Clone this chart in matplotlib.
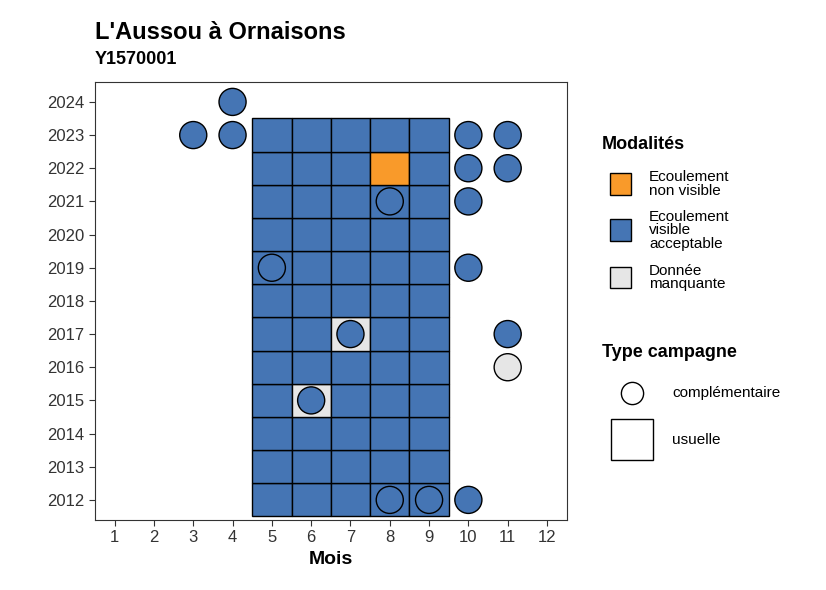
import matplotlib
matplotlib.use("Agg")
import matplotlib.pyplot as plt
from matplotlib.patches import Rectangle
from matplotlib.lines import Line2D

plt.rcParams['font.family'] = ['Liberation Sans', 'DejaVu Sans']

BLUE = '#4575b4'; ORANGE = '#f99a2a'; GREY = '#e6e6e6'
colors = {'vis': BLUE, 'nv': ORANGE, 'na': GREY}

# usual campaign tiles: months 5-9, years 2012-2023
tile_months = [5, 6, 7, 8, 9]
tile_years = list(range(2012, 2024))
tile_exceptions = {(8, 2022): 'nv', (7, 2017): 'na', (6, 2015): 'na'}

# complementary campaign points (month, year, modality)
comp_months = [4, 3, 4, 10, 11, 10, 11, 8, 10, 5, 10, 7, 11, 11, 6, 8, 9, 10]
comp_years = [2024, 2023, 2023, 2023, 2023, 2022, 2022, 2021, 2021, 2019, 2019, 2017, 2017, 2016, 2015, 2012, 2012, 2012]
comp_mod = ['vis'] * 13 + ['na'] + ['vis'] * 4

fig = plt.figure(figsize=(8.26, 5.9), dpi=100)
ax = fig.add_axes([0.115, 0.119, 0.571, 0.742])

for y in tile_years:
    for m in tile_months:
        mod = tile_exceptions.get((m, y), 'vis')
        ax.add_patch(Rectangle((m - 0.5, y - 0.5), 1, 1, facecolor=colors[mod],
                               edgecolor='black', lw=1, zorder=2))

ax.scatter(comp_months, comp_years, s=380, c=[colors[c] for c in comp_mod],
           edgecolors='black', linewidths=1, zorder=3)

ax.set_xlim(0.5, 12.5)
ax.set_ylim(2011.4, 2024.6)
ax.set_xticks(range(1, 13))
ax.set_yticks(range(2012, 2025))
ax.tick_params(labelsize=12, colors='#333333', length=4)
for sp in ax.spines.values():
    sp.set_color('#333333'); sp.set_linewidth(0.8)
ax.set_xlabel('Mois', fontsize=14, fontweight='bold')

fig.text(0.115, 0.945, "L'Aussou à Ornaisons", fontsize=17, fontweight='bold', va='center')
fig.text(0.115, 0.9, "Y1570001", fontsize=13, fontweight='bold', va='center')

# legend: modalities
fig.text(0.729, 0.755, 'Modalités', fontsize=13, fontweight='bold', va='center')
items = [(ORANGE, 'Ecoulement\nnon visible', 0.688), (BLUE, 'Ecoulement\nvisible\nacceptable', 0.61),
         (GREY, 'Donnée\nmanquante', 0.53)]
for col, lab, yy in items:
    fig.patches.append(Rectangle((0.739, yy - 0.018), 0.025, 0.036, facecolor=col, edgecolor='black',
                                 lw=1, transform=fig.transFigure, figure=fig))
    fig.text(0.786, yy, lab, fontsize=11, va='center', linespacing=0.95)

fig.text(0.729, 0.402, 'Type campagne', fontsize=13, fontweight='bold', va='center')
fig.add_artist(Line2D([0.765], [0.334], marker='o', markersize=16, mfc='white', mec='black',
                      transform=fig.transFigure))
fig.text(0.814, 0.334, 'complémentaire', fontsize=11, va='center')
fig.patches.append(Rectangle((0.740, 0.22), 0.05, 0.07, facecolor='white', edgecolor='black',
                             lw=1, transform=fig.transFigure, figure=fig))
fig.text(0.814, 0.255, 'usuelle', fontsize=11, va='center')

fig.savefig('out.png', dpi=100)
